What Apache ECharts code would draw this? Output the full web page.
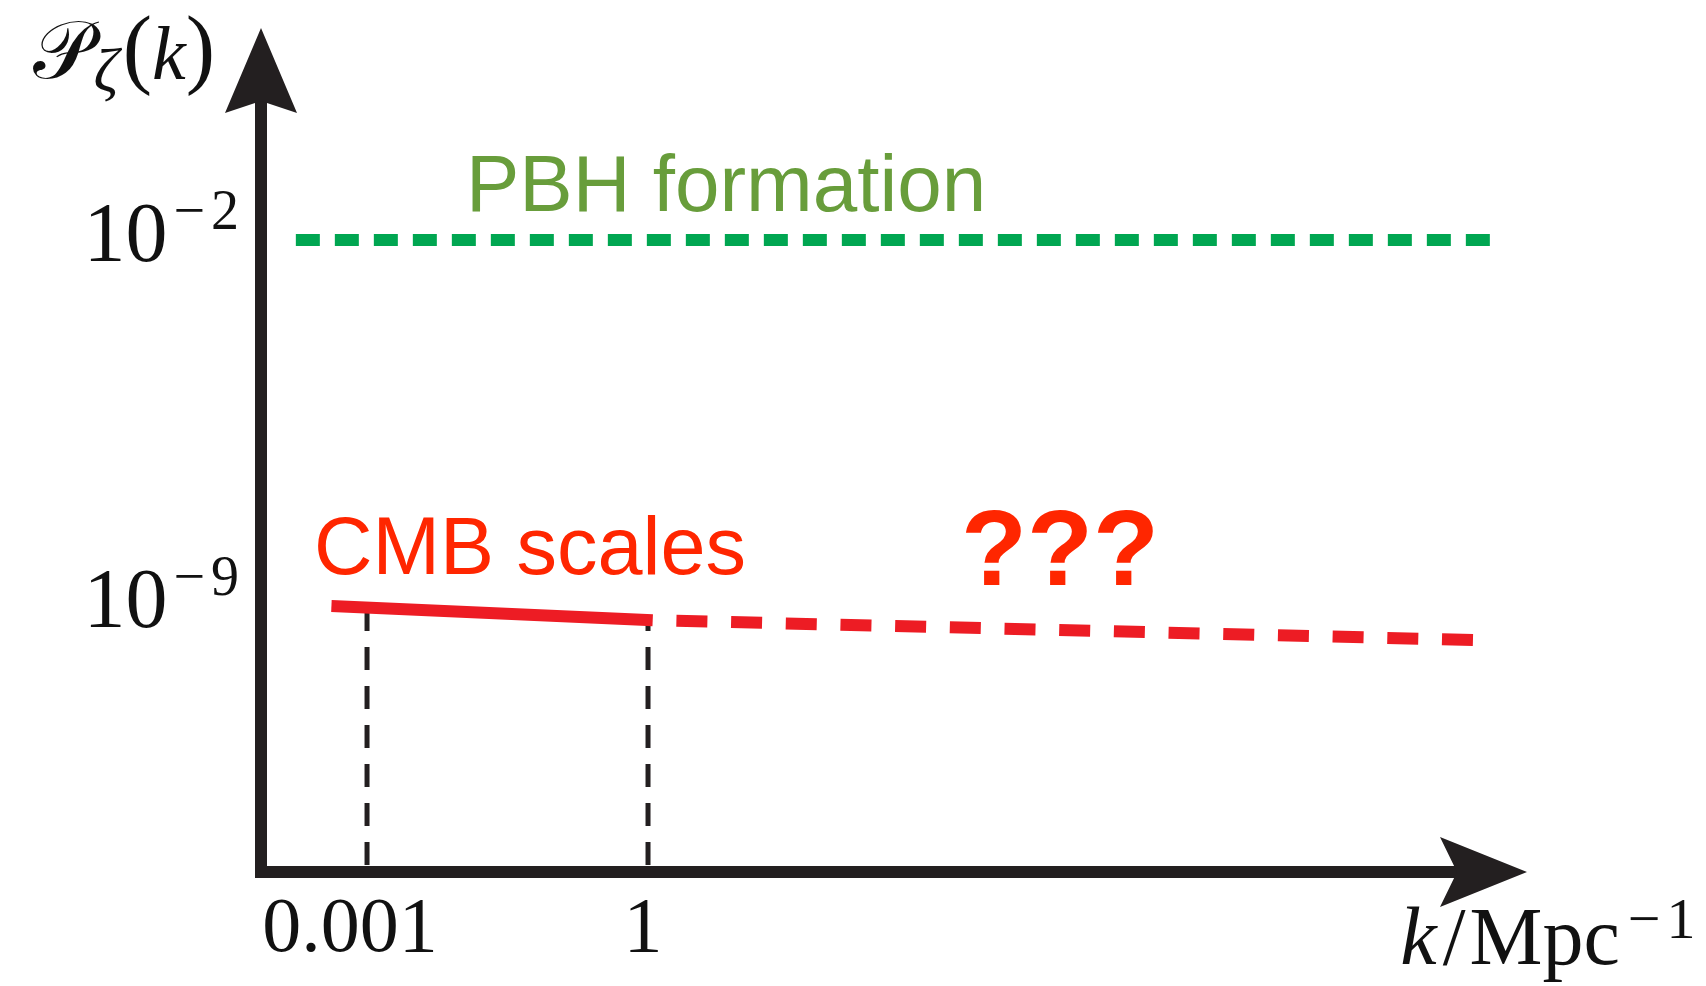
<!DOCTYPE html>
<html>
<head>
<meta charset="utf-8">
<title>Curvature power spectrum</title>
<script src="https://cdn.jsdelivr.net/npm/echarts@6/dist/echarts.min.js"></script>
<style>
  html, body { margin: 0; padding: 0; background: #fff; }
  #chart { width: 1706px; height: 986px; }
</style>
</head>
<body>
<div id="chart"></div>
<script>
// Both axes are in decades: x = log10(k / Mpc^-1), y = log10(P_zeta).
const kTickValues = [-3, 0];
const kTickLabels = ['0.001', '1'];
const pTickValues = [-9, -2];

// PBH formation threshold (~1e-2)
const pbhLogK = [-3.76, 9.02];
const pbhLogP = [-2, -2];

// Measured CMB amplitude
const cmbLogK = [-3.38, 0.05];
const cmbLogP = [-9.0, -9.27];

// Extrapolation to small scales
const extLogK = [0.05, 8.82];
const extLogP = [-9.27, -9.65];

// Vertical guides marking the CMB window
const guideLogK = [-3, 0];
const guideLogP = [-9.03, -9.26];

const X_MIN = -4.132, X_MAX = 8.92;
const Y_MIN = -14.086, Y_MAX = 1.242;

const ink = '#231f20';
const txt = '#111111';
const serif = "'Liberation Serif', 'Times New Roman', serif";
const sans = "'Liberation Sans', Arial, Helvetica, sans-serif";

const pairs = (xs, ys) => xs.map((x, i) => [x, ys[i]]);

const guideSeries = guideLogK.map((k, i) => ({
  type: 'line',
  data: [[k, Y_MIN], [k, guideLogP[i]]],
  symbol: 'none',
  z: 1,
  silent: true,
  lineStyle: { color: ink, width: 5, type: [23, 16], dashOffset: 32 }
}));

const chart = echarts.init(document.getElementById('chart'), null, { renderer: 'canvas' });

chart.setOption({
  animation: false,
  backgroundColor: '#ffffff',
  grid: { left: 261, right: 222.5, top: 70.5, bottom: 114, containLabel: false, outerBoundsMode: 'none' },
  xAxis: {
    type: 'value',
    min: X_MIN,
    max: X_MAX,
    splitLine: { show: false },
    axisTick: { show: false },
    axisLine: {
      onZero: false,
      symbol: ['none', 'path://M35 0L70 87L35 70L0 87Z'],
      symbolSize: [70, 87],
      lineStyle: { color: ink, width: 12, cap: 'square' }
    },
    axisLabel: {
      customValues: kTickValues,
      margin: 20,
      color: txt,
      fontFamily: serif,
      fontSize: 78,
      lineHeight: 78,
      formatter: v => {
        const i = kTickValues.indexOf(v);
        return i === 0 ? '{a|' + kTickLabels[i] + '}' : '{b|' + kTickLabels[i] + '}';
      },
      rich: {
        a: { fontFamily: serif, fontSize: 78, lineHeight: 78, color: txt, padding: [0, 34, 0, 0] },
        b: { fontFamily: serif, fontSize: 78, lineHeight: 78, color: txt, padding: [0, 10, 0, 0] }
      }
    },
    name: '{k|k}{sl|/}{n|Mpc}{m|−}{s|1}',
    nameLocation: 'end',
    nameGap: 212,
    nameMoveOverlap: false,
    nameTextStyle: {
      align: 'right',
      verticalAlign: 'top',
      padding: [17, 0, 0, 0],
      rich: {
        k: { fontFamily: serif, fontStyle: 'italic', fontSize: 82, lineHeight: 112, verticalAlign: 'top', color: txt, padding: [12, 6, 0, 0] },
        sl: { fontFamily: serif, fontSize: 82, lineHeight: 112, verticalAlign: 'top', color: txt, padding: [12, 4, 0, 0] },
        n: { fontFamily: serif, fontSize: 82, lineHeight: 112, verticalAlign: 'top', color: txt, padding: [12, 0, 0, 0] },
        m: { fontFamily: serif, fontSize: 58, lineHeight: 76, verticalAlign: 'top', color: txt, padding: [5, 6, 0, 8] },
        s: { fontFamily: serif, fontSize: 58, lineHeight: 76, verticalAlign: 'top', color: txt, padding: [5, 0, 0, 0] }
      }
    }
  },
  yAxis: {
    type: 'value',
    min: Y_MIN,
    max: Y_MAX,
    splitLine: { show: false },
    axisTick: { show: false },
    axisLine: {
      onZero: false,
      symbol: ['none', 'path://M36 0L72 85L36 73L0 85Z'],
      symbolSize: [72, 85],
      lineStyle: { color: ink, width: 12, cap: 'square' }
    },
    axisLabel: {
      customValues: pTickValues,
      margin: 22,
      formatter: v => '{b|10}{m|−}{d|' + Math.round(-v) + '}',
      rich: {
        b: { fontFamily: serif, fontSize: 84, lineHeight: 108, verticalAlign: 'top', color: txt, padding: [11, 0, 0, 0] },
        m: { fontFamily: serif, fontSize: 56, lineHeight: 56, verticalAlign: 'top', color: txt, padding: [0, 6, 0, 6] },
        d: { fontFamily: serif, fontSize: 56, lineHeight: 56, verticalAlign: 'top', color: txt }
      }
    },
    name: '{c|𝒫}{z|ζ}{p|(}{k|k}{p|)}',
    nameLocation: 'end',
    nameGap: 6,
    nameMoveOverlap: false,
    nameTextStyle: {
      align: 'right',
      verticalAlign: 'middle',
      padding: [0, 46, 0, 0],
      rich: {
        c: { fontFamily: "'DejaVu Serif', 'DejaVu Sans', serif", fontSize: 82, lineHeight: 97, verticalAlign: 'bottom', color: txt, padding: [0, 0, 16, 0] },
        z: { fontFamily: serif, fontStyle: 'italic', fontSize: 62, lineHeight: 36, verticalAlign: 'bottom', color: txt, padding: [0, 4, 8, 2] },
        p: { fontFamily: serif, fontSize: 88, lineHeight: 98, verticalAlign: 'bottom', color: txt, padding: [0, 0, 16, 0] },
        k: { fontFamily: serif, fontStyle: 'italic', fontSize: 76, lineHeight: 90, verticalAlign: 'bottom', color: txt, padding: [0, 0, 16, 0] }
      }
    }
  },
  series: [
    ...guideSeries,
    {
      name: 'PBH formation',
      type: 'line',
      data: pairs(pbhLogK, pbhLogP),
      symbol: 'none',
      clip: false,
      z: 3,
      lineStyle: { color: '#00a651', width: 12, type: [24, 15] }
    },
    {
      name: 'CMB',
      type: 'line',
      data: pairs(cmbLogK, cmbLogP),
      symbol: 'none',
      clip: false,
      z: 4,
      lineStyle: { color: '#ed1c24', width: 12, cap: 'butt' }
    },
    {
      name: 'extrapolation',
      type: 'line',
      data: pairs(extLogK, extLogP),
      symbol: 'none',
      clip: false,
      z: 4,
      lineStyle: { color: '#ed1c24', width: 12, type: [31, 23.7], dashOffset: 31 }
    }
  ],
  graphic: [
    {
      type: 'text', x: 466, y: 189, silent: true,
      style: { text: 'PBH formation', font: '80px ' + sans, fill: '#689d3b', verticalAlign: 'middle', align: 'left' }
    },
    {
      type: 'text', x: 314, y: 552, silent: true,
      style: { text: 'CMB scales', font: '81px ' + sans, fill: '#ff2600', verticalAlign: 'middle', align: 'left' }
    },
    {
      type: 'text', x: 961, y: 555, silent: true,
      style: { text: '???', font: 'bold 108px ' + sans, fill: '#ff2600', verticalAlign: 'middle', align: 'left' }
    }
  ]
});
</script>
</body>
</html>
